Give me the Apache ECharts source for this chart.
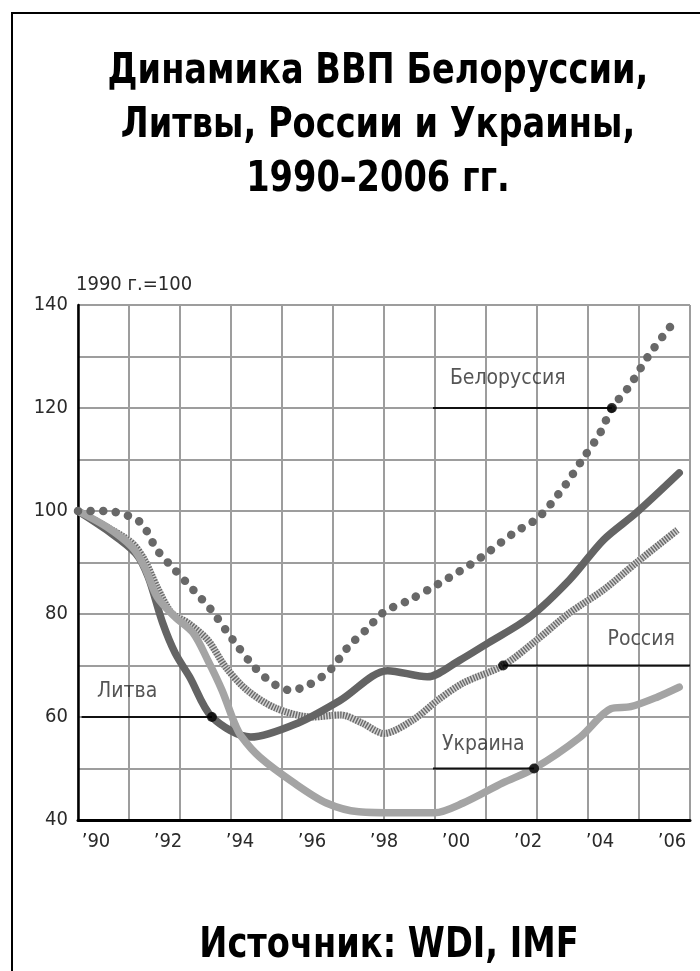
<!DOCTYPE html>
<html>
<head>
<meta charset="utf-8">
<script src="https://cdn.jsdelivr.net/npm/echarts@6/dist/echarts.min.js"></script>
<style>
html,body{margin:0;padding:0;background:#fff;}
#chart{width:700px;height:971px;}
</style>
</head>
<body>
<div id="chart"></div>
<script>
// ---- data ----
var years = [1990,1991,1992,1993,1994,1995,1996,1997,1998,1999,2000,2001,2002,2003,2004,2005,2006];
var yTicks = [40,60,80,100,120,140];

var belarus = [[1990,100],[1990.8,100],[1991.5,98.8],[1991.8,97.3],[1992.2,92.4],[1992.7,88.5],[1993.2,84.7],[1993.7,80.8],[1994.3,75],[1994.9,69.7],[1995.4,66.6],[1995.9,65.2],[1996.4,66.2],[1997,69.1],[1997.5,73.6],[1998,76.9],[1998.5,80.4],[1999.2,82.7],[2000,85.8],[2000.6,88.3],[2001.2,91],[2002.1,95.7],[2002.8,98.8],[2003.5,104.7],[2004,109.9],[2004.5,115.1],[2004.83,120],[2005.3,124.1],[2005.9,130.7],[2006.6,137.1]];
var lithuania = [[1990,100],[1990.8,96.3],[1991.6,91.8],[1991.95,87.2],[1992.35,78.3],[1992.7,72.4],[1993.1,67.8],[1993.72,60],[1994.8,56.1],[1996.1,58.8],[1997.3,63.3],[1998.6,69],[1999.7,67.8],[2000.6,71],[2001.4,74.4],[2002.55,79.4],[2003.65,86.6],[2004.6,94.4],[2005.5,99.6],[2006.7,107.4]];
var russia = [[1990,100],[1990.8,96.9],[1991.5,93.8],[1991.85,90.5],[1992.2,85.2],[1992.6,80.2],[1993.05,78.3],[1993.6,75],[1994.1,69.7],[1994.7,65.2],[1995.5,61.7],[1996.5,60],[1997.3,60.4],[1997.9,58.8],[1998.5,56.8],[1999.3,59.4],[2000,63.3],[2000.7,66.6],[2001.81,70],[2002.75,75],[2003.65,80.2],[2004.6,84.7],[2005.5,89.9],[2006.65,96.3]];
var ukraine = [[1990,100],[1990.8,96.9],[1991.5,93],[1991.85,89.1],[1992.2,83.3],[1992.7,79.4],[1993.2,76.3],[1993.6,71.1],[1994,65.2],[1994.35,58.8],[1994.55,56.1],[1995.05,52.2],[1996,47.2],[1996.9,43.3],[1997.8,41.6],[1998.9,41.4],[1999.9,41.4],[2000.7,43.3],[2001.8,47.2],[2002.67,50],[2003.95,56.1],[2004.8,61.6],[2005.35,62],[2006.1,63.9],[2006.7,65.8]];

// annotation callouts
var calloutNames  = ['Белоруссия','Литва','Россия','Украина'];
var calloutFrom   = [1999.86, 1990.1, 2001.81, 1999.86];
var calloutTo     = [2004.83, 1993.72, 2007, 2002.67];
var calloutValue  = [120, 60, 70, 50];
var calloutDot    = [2004.83, 1993.72, 2001.81, 2002.67];
var calloutTextX  = [2000.33, 1990.53, 2006.58, 2000.11];
var calloutTextY  = [125.8, 64.9, 75.1, 54.6];
var calloutAlign  = ['left','left','right','left'];

var FONT = '"Liberation Sans Narrow","DejaVu Sans Condensed","Roboto Condensed","Liberation Sans",sans-serif';

var chart = echarts.init(document.getElementById('chart'));

var series = [
  {name:'Россия-base', type:'line', xAxisIndex:2, data:russia, smooth:0.3, symbol:'none',
   lineStyle:{color:'#d2d2d2', width:7}, z:2},
  {name:'Россия', type:'line', xAxisIndex:2, data:russia, smooth:0.3, symbol:'none',
   lineStyle:{color:'#6a6a6a', width:7, type:[1.4,1.4]}, z:3},
  {name:'Литва', type:'line', xAxisIndex:2, data:lithuania, smooth:0.3, symbol:'none',
   lineStyle:{color:'#646464', width:7.5, cap:'round', join:'round'}, z:4},
  {name:'Украина', type:'line', xAxisIndex:2, data:ukraine, smooth:0.3, symbol:'none',
   lineStyle:{color:'#a4a4a4', width:7.5, cap:'round', join:'round'}, z:5},
  {name:'Белоруссия', type:'line', xAxisIndex:2, data:belarus, smooth:0.3, symbol:'none',
   lineStyle:{color:'#686868', width:8.5, type:[0.1,12.5], cap:'round'}, z:6}
];

for (var i=0;i<calloutNames.length;i++){
  series.push({type:'line', xAxisIndex:2, symbol:'none', silent:true, z:10,
    data:[[calloutFrom[i],calloutValue[i]],[calloutTo[i],calloutValue[i]]],
    lineStyle:{color:'#111', width:2}});
  series.push({type:'scatter', xAxisIndex:2, silent:true, z:11, symbolSize:10,
    itemStyle:{color:'#000'}, data:[[calloutDot[i],calloutValue[i]]]});
  series.push({type:'scatter', xAxisIndex:2, silent:true, z:11, symbolSize:0,
    data:[{value:[calloutTextX[i],calloutTextY[i]], name:calloutNames[i]}],
    label:{show:true, formatter:'{b}', position:[0,0], align:calloutAlign[i], verticalAlign:'middle',
      fontFamily:FONT, fontSize:21, color:'#2a2a2a'}});
}

chart.setOption({
  animation:false,
  backgroundColor:'#fff',
  grid:{left:78, right:10, top:305, bottom:151, containLabel:false},
  graphic:[
    {type:'rect', shape:{x:12, y:13, width:720, height:1000}, style:{fill:'none', stroke:'#000', lineWidth:2}, z:0},
    {type:'text', x:378, y:126, scaleX:0.89, style:{text:'Динамика ВВП Белоруссии,\nЛитвы, России и Украины,\n1990–2006 гг.',
      align:'center', verticalAlign:'middle', font:'bold 42px '+FONT, lineHeight:54, fill:'#000'}, z:20},
    {type:'text', x:389, y:946, scaleX:0.89, style:{text:'Источник: WDI, IMF', align:'center', verticalAlign:'middle',
      font:'bold 42px '+FONT, fill:'#000'}, z:20}
  ],
  xAxis:[
    {type:'value', min:0, max:12, interval:1, axisLine:{show:false}, axisTick:{show:false}, axisLabel:{show:false},
     splitLine:{show:true, lineStyle:{color:'#9d9d9d', width:2}}},
    {type:'category', data:years, boundaryGap:true, position:'bottom',
     axisLine:{show:true, lineStyle:{color:'#000', width:3}}, axisTick:{show:false},
     splitLine:{show:false},
     axisLabel:{interval:1, margin:12, color:'#2a2a2a', fontFamily:FONT, fontSize:20,
       formatter:function(v){return '’'+String(v).slice(2);}}},
    {type:'value', min:1990, max:2007, show:false}
  ],
  yAxis:[{type:'value', min:40, max:140, interval:10,
    name:'1990 г.=100', nameLocation:'end', nameGap:10,
    nameTextStyle:{align:'left', fontFamily:FONT, fontSize:20, color:'#2a2a2a', padding:[0,0,0,-2]},
    axisLine:{show:true, lineStyle:{color:'#000', width:2.5}}, axisTick:{show:false},
    splitLine:{show:true, lineStyle:{color:'#9d9d9d', width:2}},
    axisLabel:{color:'#2a2a2a', fontFamily:FONT, fontSize:20, margin:10,
      formatter:function(v){return yTicks.indexOf(v)>=0 ? String(v) : '';}}}],
  series:series
});
</script>
</body>
</html>
